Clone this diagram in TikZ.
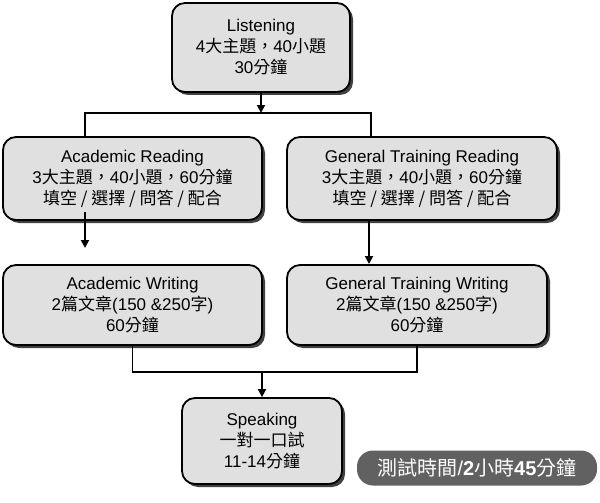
\documentclass[tikz,border=0pt]{standalone}
\usepackage{fontspec}
\setmainfont{Liberation Sans}
\newfontfamily\cjk{Noto Sans CJK TC}
\usetikzlibrary{shadows,arrows.meta}
\newcommand{\C}[1]{{\cjk #1}}
\begin{document}
\begin{tikzpicture}[x=1pt,y=-1pt,
  box/.style={draw=black,line width=1.8pt,rounded corners=13pt,fill=black!12,align=center,
    font=\fontsize{17}{21}\selectfont,
    drop shadow={shadow xshift=3pt,shadow yshift=-3pt,fill=black!75,opacity=1},
    inner sep=0pt},
  ln/.style={line width=1.8pt},
  ar/.style={ln,-{Triangle[length=8pt,width=8pt]}}]
\useasboundingbox (0,0) rectangle (600,503);
\node[box,minimum width=178pt,minimum height=89pt] (L) at (261,47.5) {Listening\\4\C{大主題，}40\C{小題}\\30\C{分鐘}};
\node[box,minimum width=259pt,minimum height=83pt] (AR) at (132.5,178.5) {Academic Reading\\3\C{大主題，}40\C{小題，}60\C{分鐘}\\\C{填空 / 選擇 / 問答 / 配合}};
\node[box,minimum width=270pt,minimum height=83pt] (GR) at (422,178.5) {General Training Reading\\3\C{大主題，}40\C{小題，}60\C{分鐘}\\\C{填空 / 選擇 / 問答 / 配合}};
\node[box,minimum width=259pt,minimum height=80pt] (AW) at (132.5,305) {Academic Writing\\2\C{篇文章}(150 \&250\C{字})\\60\C{分鐘}};
\node[box,minimum width=260pt,minimum height=80pt] (GW) at (417,305) {General Training Writing\\2\C{篇文章}(150 \&250\C{字})\\60\C{分鐘}};
\node[box,minimum width=160pt,minimum height=86pt] (S) at (262,441) {Speaking\\\C{一對一口試}\\11-14\C{分鐘}};
\node[fill=black!62,rounded corners=16pt,minimum width=240pt,minimum height=35pt,text=white,
  font=\fontsize{20}{24}\selectfont] (T) at (477,468) {\C{測試時間}/\textbf{2}\C{小時}\textbf{45}\C{分鐘}};
\coordinate (j1) at (261,113);
\coordinate (j2) at (262,372);
\draw[ar] (L.south) -- (j1);
\draw[ln] (AR.north -| 85,0) -- (85,113) -| (371,137);
\draw[ar] (85,212) -- (85,248);
\draw[ar] (GR.south -| 369,0) -- (369,264);
\draw[ln] (AW.south) |- (j2) -| (GW.south);
\draw[ar] (j2) -- (S.north);
\end{tikzpicture}
\end{document}
